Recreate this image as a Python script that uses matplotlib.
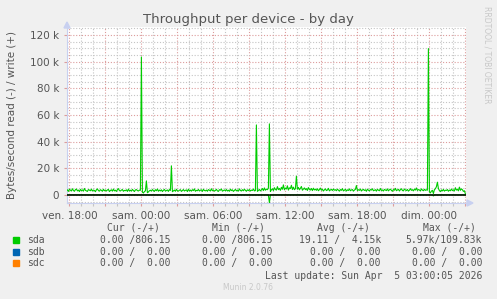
import numpy as np
import matplotlib
matplotlib.use("Agg")
import matplotlib.pyplot as plt

# sda write throughput, kB/s, one sample per 5 min, first sample at ven. 17:45
write_k = [
    3.1, 3.8, 2.6, 4.2, 3.5, 2.9, 4.6, 3.3, 2.7, 3.9, 4.4, 3.0, 3.6, 2.5, 4.1, 3.2, 3.7, 2.8, 4.8, 3.4,
    3.0, 2.6, 4.0, 3.5, 3.1, 4.3, 2.9, 3.6, 3.3, 2.4, 3.8, 4.5, 3.2, 2.8, 3.9, 3.4, 2.7, 4.2, 3.1, 3.6,
    2.9, 3.7, 4.1, 2.5, 3.3, 3.8, 2.8, 4.4, 3.0, 3.5, 2.6, 3.9, 4.7, 3.2, 2.9, 3.6, 4.0, 2.7, 3.4, 3.1,
    3.8, 2.6, 4.3, 3.0, 3.5, 2.8, 4.1, 3.3, 2.5, 3.7, 4.0, 3.2, 2.9, 3.6, 3.4,
    103.5,
    2.0, 1.4, 2.5, 3.0, 10.5, 1.6, 2.2, 3.1,
    3.5, 2.8, 4.0, 3.3, 2.6, 3.9, 3.1, 4.4, 2.7, 3.6, 3.0, 3.8, 2.5, 3.4, 4.1, 2.9, 3.2, 3.7, 2.6, 4.0, 3.3,
    21.8,
    2.4, 3.0, 3.6, 2.7, 4.2, 3.1, 2.8, 3.5, 3.9, 2.6, 3.3, 4.0, 2.9, 3.4,
    3.7, 2.5, 4.3, 3.0, 3.6, 2.8, 3.9, 3.2, 4.5, 2.7, 3.4, 3.1, 4.1, 2.9, 3.5, 3.8, 2.6, 4.2, 3.3, 3.0,
    3.6, 2.7, 4.0, 3.4, 2.9, 4.6, 3.1, 3.7, 2.8, 3.3, 4.2, 3.0, 2.6, 3.9, 3.5, 4.4, 2.8, 3.2, 3.7, 3.1,
    4.0, 2.9, 3.5, 2.7, 4.3, 3.2, 3.8, 2.6, 3.4, 4.1, 3.0, 3.6, 2.8, 4.5, 3.3, 2.9, 3.9, 3.1, 4.2, 3.5,
    2.7, 3.8, 3.2, 4.0, 2.9, 3.6, 3.3, 4.4, 3.0, 3.2,
    52.5,
    2.6, 3.4, 4.1, 3.0, 3.7, 4.8, 3.2, 5.2, 3.5, 4.3, 3.9, 5.0,
    53.3,
    2.5, 3.8, 4.6, 3.2, 5.4, 4.0, 3.6, 6.2, 3.9, 4.8, 3.4, 5.7, 4.2, 7.5, 3.8, 5.1, 4.4, 6.8, 3.6, 5.3,
    4.7, 7.2, 4.0, 5.8, 3.9, 4.6,
    14.0,
    4.2, 5.6, 3.8, 4.9, 6.3, 3.5, 4.4, 5.2, 3.9, 4.7, 3.3, 5.5, 4.1, 3.6, 4.8, 3.2, 5.0, 3.7, 4.3,
    3.4, 4.6, 3.1, 3.9, 5.1, 3.5, 4.2, 2.9, 3.8, 4.5, 3.2, 3.6, 4.9, 3.0, 3.7, 4.1, 3.3, 4.4, 3.5, 3.9,
    3.1, 4.3, 3.6, 2.8, 4.0, 3.4, 4.7, 3.0, 3.5, 4.2, 2.9, 3.8, 3.3, 4.5, 3.1, 3.7, 4.0, 2.8, 3.6, 4.1,
    7.0,
    3.2, 3.9, 3.4, 4.4, 2.9, 3.7, 4.1, 3.3, 3.8, 2.7, 4.3, 3.5, 3.0, 4.0, 3.6, 4.6, 3.1, 3.4, 3.9,
    2.8, 4.2, 3.5, 3.1, 4.8, 3.3, 3.7, 2.9, 4.1, 3.6, 3.2, 4.5, 3.0, 3.8, 4.3, 3.4, 2.7, 4.0, 3.5, 4.9,
    3.1, 3.6, 4.2, 2.9, 3.9, 4.6, 3.3, 3.0, 4.4, 3.7, 3.2, 4.1, 2.8, 3.5, 4.7, 3.4, 3.9, 3.0, 4.3, 3.6,
    5.2, 3.3, 4.0, 3.7, 2.9, 4.5, 3.6, 3.1, 4.2, 3.4, 3.8, 3.5,
    109.8,
    2.2, 1.5, 2.8, 3.4, 1.0, 3.9, 4.6, 6.1,
    9.5,
    4.8, 3.2, 2.4, 3.7, 3.0, 4.1, 2.8, 3.5, 3.3, 4.0, 2.7, 3.6, 3.1, 4.4, 3.2, 3.8, 2.9, 5.4, 3.6, 4.2,
    3.0, 5.8, 3.4, 4.5, 3.9, 2.6, 3.1, 0.8,
]
# sda read (drawn negative): sample index -> kB/s
read_idx = [203, 367]
read_k = [5.97, 0.8]

x_hours = [0, 6, 12, 18, 24, 30]
x_labels = ["ven. 18:00", "sam. 00:00", "sam. 06:00", "sam. 12:00", "sam. 18:00", "dim. 00:00"]
y_ticks = [0, 20, 40, 60, 80, 100, 120]
y_labels = ["0", "20 k", "40 k", "60 k", "80 k", "100 k", "120 k"]

devices = ["sda", "sdb", "sdc"]
dev_colors = ["#00CC00", "#0066B3", "#FF8000"]
cur = ["0.00 /806.15", "0.00 /  0.00", "0.00 /  0.00"]
mins = ["0.00 /806.15", "0.00 /  0.00", "0.00 /  0.00"]
avgs = ["19.11 /  4.15k", "0.00 /  0.00", "0.00 /  0.00"]
maxs = ["5.97k/109.83k", "0.00 /  0.00", "0.00 /  0.00"]

write = np.array(write_k) * 1000
read = np.zeros(len(write))
read[read_idx] = -np.array(read_k) * 1000
hours = -0.25 + np.arange(len(write)) / 12.0

W, H = 497, 299
fig = plt.figure(figsize=(W / 100, H / 100), dpi=100, facecolor="#F0F0F0")
ax = fig.add_axes([67 / W, 1 - 203 / H, (466 - 67) / W, (203 - 27) / H])
ax.set_facecolor("white")

ax.set_xlim(-0.2, 33.05)
ax.set_ylim(-6100, 126000)

minor_c = "#C4C4C4"
major_c = "#DC9C9C"
dots = (0, (1, 1.6))
# grid
for h in np.arange(0, 34, 1):
    if h % 3:
        ax.axvline(h, color=minor_c, lw=0.8, ls=dots, zorder=1)
for h in np.arange(0, 34, 3):
    ax.axvline(h, color=major_c, lw=0.8, ls=dots, zorder=1)
for v in np.arange(-5000, 126000, 5000):
    if v % 20000:
        ax.axhline(v, color=minor_c, lw=0.8, ls=dots, zorder=1)
for v in np.arange(0, 126000, 20000):
    ax.axhline(v, color=major_c, lw=0.8, ls=dots, zorder=1)

ax.plot(hours, write, color="#00CC00", lw=0.8, zorder=3)
ax.plot(hours, read, color="#00CC00", lw=0.8, zorder=3)
ax.axhline(0, color="black", lw=1.1, zorder=4)

ax.set_xticks(np.arange(0, 34, 3))
ax.set_xticklabels([x_labels[x_hours.index(h)] if h in x_hours else "" for h in range(0, 34, 3)])
ax.set_xticks(np.arange(0, 34, 1), minor=True)
ax.tick_params(axis="x", which="major", length=2.5, width=0.8, color=major_c,
               labelsize=7.5, labelcolor="#555555", pad=3)
ax.tick_params(axis="x", which="minor", length=2, width=0.8, color=minor_c)
ax.set_yticks([t * 1000 for t in y_ticks])
ax.set_yticklabels(y_labels)
ax.tick_params(axis="y", length=2.5, width=0.8, color=major_c, labelsize=7.5,
               labelcolor="#555555", pad=3)
for sp in ["top", "right"]:
    ax.spines[sp].set_visible(False)
for sp in ["left", "bottom"]:
    ax.spines[sp].set_color("#C8D0F0")
    ax.spines[sp].set_linewidth(0.8)

# axis arrows
fig.patches.append(plt.Polygon([[64 / W, 1 - 28 / H], [70 / W, 1 - 28 / H], [67 / W, 1 - 22 / H]],
                               closed=True, transform=fig.transFigure, color="#C8D0F0"))
fig.patches.append(plt.Polygon([[467 / W, 1 - 200 / H], [467 / W, 1 - 206 / H], [473 / W, 1 - 203 / H]],
                               closed=True, transform=fig.transFigure, color="#C8D0F0"))

fig.text(248 / W, 1 - 19 / H, "Throughput per device - by day", ha="center", va="center",
         fontsize=9.5, color="#555555")
fig.text(12 / W, 1 - 115 / H, "Bytes/second read (-) / write (+)", rotation=90,
         ha="center", va="center", fontsize=7.5, color="#555555")
fig.text(487 / W, 1 - 55 / H, "RRDTOOL / TOBI OETIKER", rotation=270, ha="center", va="center",
         fontsize=5.5, color="#C8C8C8")

mono = dict(family="DejaVu Sans Mono", fontsize=7, color="#555555", va="center")
header_x = [160, 265, 370, 476]
for hx, hd in zip(header_x, ["Cur (-/+)", "Min (-/+)", "Avg (-/+)", "Max (-/+)"]):
    fig.text(hx / W, 1 - 228 / H, hd, ha="right", **mono)
col_x = [170, 272, 381, 482]
row_y = [240, 252, 263]
for i, dev in enumerate(devices):
    y = 1 - row_y[i] / H
    fig.patches.append(plt.Rectangle((13 / W, y - 3 / H), 6 / W, 6 / H,
                                     transform=fig.transFigure, color=dev_colors[i]))
    fig.text(27 / W, y, dev, ha="left", **mono)
    for cx, vals in zip(col_x, [cur, mins, avgs, maxs]):
        fig.text(cx / W, y, vals[i], ha="right", **mono)
fig.text(482 / W, 1 - 276 / H, "Last update: Sun Apr  5 03:00:05 2026", ha="right", **mono)
fig.text(248 / W, 1 - 288 / H, "Munin 2.0.76", ha="center", va="center", fontsize=5.5,
         color="#C8C8C8")

fig.savefig("out.png", dpi=100, facecolor=fig.get_facecolor())
